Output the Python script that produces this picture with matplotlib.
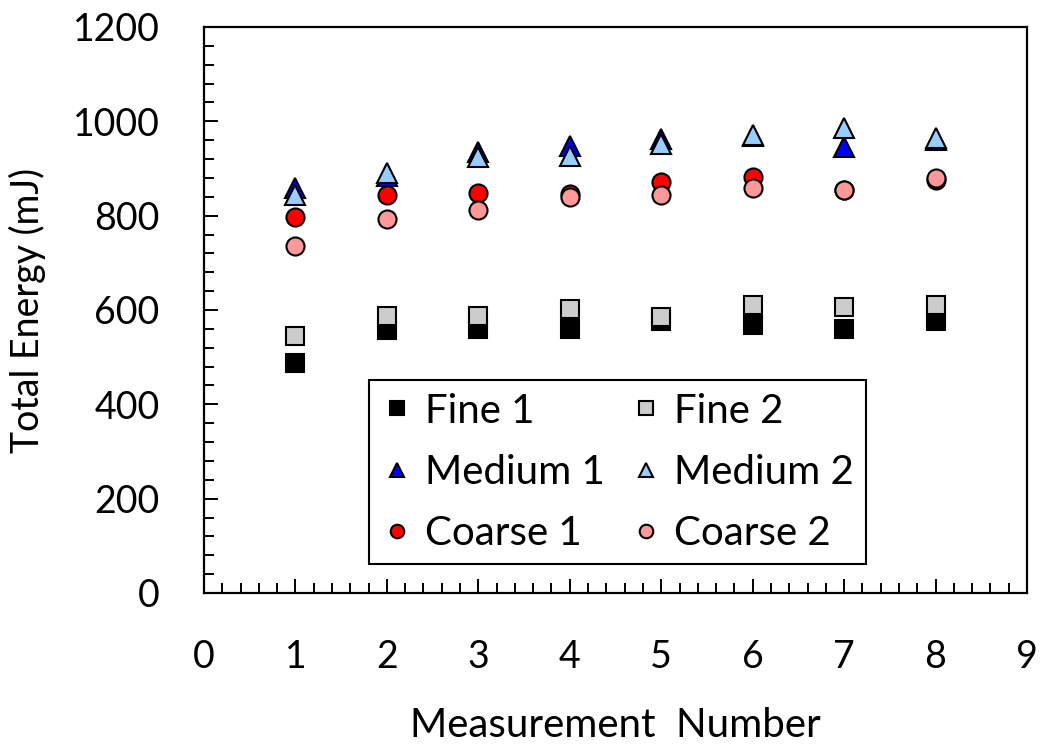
import matplotlib
matplotlib.use('Agg')
import matplotlib.pyplot as plt
from matplotlib.ticker import MultipleLocator

plt.rcParams.update({'font.family': ['Lato', 'DejaVu Sans']})

measurement = [1, 2, 3, 4, 5, 6, 7, 8]
fine_1 = [488, 558, 560, 559, 577, 568, 559, 577]
fine_2 = [545, 587, 587, 601, 586, 610, 606, 611]
medium_1 = [859, 885, 934, 948, 962, 968, 945, 960]
medium_2 = [844, 890, 924, 927, 952, 971, 985, 965]
coarse_1 = [798, 844, 849, 845, 872, 881, 854, 875]
coarse_2 = [736, 793, 812, 840, 844, 858, 854, 880]

series = [
    ('Fine 1', fine_1, 's', '#000000', 13),
    ('Fine 2', fine_2, 's', '#cccccc', 13),
    ('Medium 1', medium_1, '^', '#0000ff', 14),
    ('Medium 2', medium_2, '^', '#99ccff', 14),
    ('Coarse 1', coarse_1, 'o', '#ff0000', 13),
    ('Coarse 2', coarse_2, 'o', '#ff9999', 13),
]

fig = plt.figure(figsize=(10.5, 7.47), dpi=100)
ax = fig.add_axes([0.1943, 0.2062, 0.7838, 0.7577])

handles = []
for label, vals, marker, color, ms in series:
    h, = ax.plot(measurement, vals, linestyle='none', marker=marker, markersize=ms,
                 markerfacecolor=color, markeredgecolor='black', markeredgewidth=1.5,
                 label=label)
    handles.append(h)

ax.set_xlim(0, 9)
ax.set_ylim(0, 1200)
ax.xaxis.set_major_locator(MultipleLocator(1))
ax.xaxis.set_minor_locator(MultipleLocator(0.2))
ax.yaxis.set_major_locator(MultipleLocator(200))
ax.yaxis.set_minor_locator(MultipleLocator(40))

for s in ax.spines.values():
    s.set_linewidth(1.6)
ax.tick_params(which='both', direction='in', width=1.4, labelsize=27)
ax.tick_params(which='major', length=10)
ax.tick_params(which='minor', length=7)
ax.tick_params(axis='x', which='major', pad=33)
ax.tick_params(axis='y', which='major', pad=32)

ax.set_xlabel('Measurement  Number', fontsize=29, labelpad=23)
ax.set_ylabel('Total Energy (mJ)', fontsize=27, labelpad=19)

# row-wise legend: matplotlib fills columns first
order = [0, 2, 4, 1, 3, 5]
leg = ax.legend([handles[i] for i in order], [series[i][0] for i in order],
                ncol=2, loc='lower left', bbox_to_anchor=(0.2005, 0.0512),
                borderaxespad=0, fontsize=29, markerscale=0.75,
                handlelength=0.8, handletextpad=0.3, columnspacing=0.6,
                labelspacing=0.6, borderpad=0.3, framealpha=1,
                frameon=True, fancybox=False)
leg.get_frame().set_edgecolor('black')
leg.get_frame().set_linewidth(1.5)

fig.savefig('out.png', dpi=100)
